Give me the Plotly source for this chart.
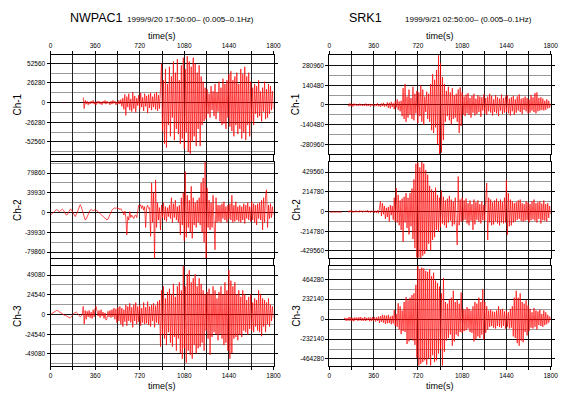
import plotly.graph_objects as go

N = None
DT = 8          # seconds between samples
T_START = 0     # time of the first sample (s)
UNIT = 1000     # sample values below are in thousands

# ---------------- NWPAC1 (1999/9/20 17:50:00-) ----------------
nwpac1_ch1_k = [
    N, N, N, N, N, N, N, N, N, N,
    N, N, N, 0, 0, N, N, N, N, N,
    N, N, N, N, N, N, N, N, N, N,
    N, N, N, 7, -8, 3, -2, 2, -3, 1,
    -2, 2, -1, 3, -2, 1, -3, 2, -1, 2,
    -2, 1, -3, 2, -1, 3, -2, 2, -1, 1,
    -3, 2, -2, 3, -1, 2, -3, 1, -2, 3,
    -2, 4, -5, 6, -9, 11, -17, 8, -6, 12,
    -10, 5, -12, 14, -8, 9, -13, 6, -4, 10,
    -9, 13, -6, 7, -11, 12, -5, 9, -14, 11,
    -7, 13, -10, 8, -6, 12, -9, 14, -11, 10,
    -8, 20, 52, -38, 30, -55, 45, -60, 25, -30,
    48, -45, 35, -20, 55, -50, 40, -35, 58, -42,
    30, -55, 50, -48, 60, -62, 45, -40, 62, -66,
    55, -68, 48, -52, 60, -45, 52, -58, 40, -35,
    50, -58, 35, -30, 28, -25, 20, -22, 18, -15,
    12, -20, 22, -10, 15, -18, 25, -22, 14, -12,
    28, -25, 20, -30, 32, -28, 25, -35, 30, -20,
    38, -32, 42, -38, 30, -45, 35, -30, 40, -42,
    25, -35, 45, -48, 38, -40, 48, -50, 35, -30,
    40, -45, 28, -25, 20, -30, 25, -15, 22, -20,
    30, -18, 15, -25, 20, -12, 28, -22, 18, -20,
    25, -15, 22, -10, 15, -8,
]

nwpac1_ch2_k = [
    -5, -3, 0, 2, 4, 5, 6, 5, 3, 2,
    4, 6, 7, 5, 2, -2, -5, -4, 0, 4,
    7, 6, 2, -3, -7, -8, -4, 2, 8, 13,
    16, 12, 4, -5, -12, -15, -13, -8, -2, 3,
    5, 6, 5, 4, 5, 6, 5, 4, 2, 0,
    -2, -4, -6, -8, -10, -12, -14, -15, -13, -8,
    -3, 2, 5, 7, 9, 10, 8, 10, 7, 9,
    6, 8, 4, 2, -5, 3, -10, -45, -8, -15,
    2, -10, -5, -8, -12, -6, -5, -10, 2, 15,
    12, 16, 8, 14, 5, 12, -30, 10, 15, 8,
    10, -48, 60, -20, 40, -98, 66, -30, 20, -15,
    10, -35, 15, -10, 20, -15, 12, -18, 10, -8,
    15, -12, 30, -20, 18, -10, 25, -15, 12, -20,
    15, -45, 30, -25, 40, -57, 83, -50, 35, -30,
    25, -40, 53, -52, 30, -25, 20, -30, 25, -20,
    30, -25, 60, -40, 70, -60, 103, -92, 50, -30,
    25, -35, 20, -30, 35, -40, -75, 30, -20, 15,
    -18, 15, -20, 18, -12, 22, -15, 12, -20, 15,
    -12, 18, -15, 35, -20, 15, -18, 22, -15, 12,
    -18, 15, -20, 12, -15, 18, -22, 15, -12, 20,
    -15, 12, -18, 22, -15, 18, -20, 15, -25, 18,
    -12, 20, -15, 25, -35, 30, -20, 35, 46, -30,
    15, -12, 18, -10, 12, -5,
]

nwpac1_ch3_k = [
    0, 1, 2, 3, 4, 5, 5, 5, 4, 3,
    3, 2, 1, 0, -1, -1, -2, -2, -3, -4,
    -4, -3, -2, 0, 2, 3, 3, 2, 0, -2,
    -3, -2, 0, 10, -12, 5, -6, 4, -3, 5,
    -4, 3, -5, 6, -3, 8, 10, 4, -2, 5,
    -4, 6, -2, 3, -5, 2, -7, -5, 4, -3,
    5, -4, 6, -3, 8, -6, 7, -10, 9, -8,
    10, -12, 8, -15, 6, -9, 12, -14, 10, -8,
    14, -10, 9, -16, 12, -8, 15, -12, 10, -9,
    12, -14, 8, -10, 15, -12, 9, -11, 16, -13,
    10, -15, 12, -8, 14, -16, 11, -10, 16, -12,
    18, -40, 30, -25, 35, -30, 20, -38, 28, -22,
    32, -35, 25, -40, 38, -28, 22, -45, 35, -30,
    40, -48, 30, -55, 60, -42, 35, -60, 50, -45,
    55, -50, 40, -55, 45, -38, 50, -48, 35, -42,
    45, -40, 38, -35, 30, -45, 25, -20, 28, -30,
    32, -50, 25, -28, 35, -22, 30, -25, 20, -32,
    28, -24, 35, -30, 25, -38, 40, -35, 30, -45,
    55, -55, 42, -48, 35, -30, 40, -28, 25, -32,
    30, -25, 22, -28, 30, -20, 25, -22, 18, -25,
    22, -18, 25, -20, 15, -22, 20, -15, 18, -20,
    30, -22, 25, -27, 20, -15, 18, -22, 15, -12,
    20, -15, 12, -8, 10, -5,
]

# ---------------- SRK1 (1999/9/21 02:50:00-) ----------------
srk1_ch1_k = [
    N, N, N, N, N, N, N, N, N, N,
    N, N, N, N, N, N, N, N, N, 0,
    -10, 12, -8, 6, -12, 10, -5, 8, -6, 4,
    -7, 9, -5, 6, -8, 4, -6, 10, -9, 5,
    -6, 8, -12, 7, -4, 9, -10, 6, -8, 12,
    -9, 5, -14, 10, -8, 15, -12, 6, -10, 18,
    -20, 15, -25, 22, -15, 12, -30, 25, -18, 40,
    -35, 25, -45, 30, -80, 120, -100, 150, -120, 60,
    -90, 110, -70, 50, -100, 130, -110, 80, -60, 100,
    -130, 90, -80, 140, -120, 110, -140, 60, -50, 95,
    -100, 80, -120, 150, -180, 220, -200, 180, -160, 250,
    -280, 355, -350, 300, -340, 200, -250, 150, -120, 100,
    -80, 130, -110, 90, -140, 120, -100, 70, -90, 80,
    -120, 110, -200, 125, -150, 90, -70, 60, -80, 75,
    -60, 85, -70, 50, -90, 65, -55, 80, -75, 45,
    -65, 70, -50, 60, -85, 55, -40, 75, -60, 50,
    -70, 60, -45, 80, -55, 65, -75, 40, -50, 70,
    -60, 55, -80, 45, -40, 75, -65, 50, -55, 60,
    -50, 70, -60, 45, -75, 55, -45, 65, -70, 40,
    -55, 60, -40, 75, -50, 45, -65, 50, -35, 60,
    -45, 50, -60, 40, -55, 70, -40, 55, -50, 85,
    -60, 90, -45, 50, -40, 55, -35, 45, -40, 30,
    -35, 40, -25, 30, -20, 10,
]

srk1_ch2_k = [
    -7, -6, -7, -6, -7, -7, -6, -7, -6, -7,
    -7, -6, -7, -6, N, N, N, N, N, 8,
    -10, 12, -6, 9, -12, 5, -8, 10, -7, 6,
    -9, 12, -5, 8, -11, 7, -6, 10, -8, 14,
    -10, 6, -12, 9, -5, 11, -14, 8, -15, 12,
    -20, 40, 110, -50, 90, -30, 60, -80, 40, -60,
    50, -110, 70, -40, 60, -90, 150, -110, 255, -120,
    180, -150, 120, -200, 140, -330, 160, -120, 200, -180,
    150, -250, 200, -160, 250, -300, 350, -400, 520, -500,
    530, -500, 480, -510, 540, -480, 520, -460, 450, -420,
    400, -350, 280, -420, 240, -310, 220, -280, 260, -200,
    180, -220, 150, -170, 230, -130, 160, -150, 120, -180,
    140, -120, 170, -100, 130, -160, 110, -140, 150, -120,
    -365, 380, -150, 130, -110, 150, -100, 120, -90, 140,
    -130, 90, -150, 120, -100, 80, -200, 130, -140, 100,
    -90, 120, -110, 80, -130, 110, -95, 70, -100, 150,
    310, -310, 150, -120, 130, -150, 100, -140, 120, -110,
    140, -130, 110, -150, 130, -120, 100, -130, 150, -120,
    345, -255, 200, -160, 130, -150, 110, -120, 90, -110,
    100, -90, 120, -80, 130, -100, 90, -110, 80, -100,
    110, -90, 100, -120, 80, -95, 110, -85, 130, -100,
    90, -120, 100, -80, 110, -130, 85, -95, 120, -100,
    80, -110, 90, -70, 60, -30,
]

srk1_ch3_k = [
    N, N, N, N, N, N, N, N, N, N,
    N, N, N, N, N, 0, 15, -20, 12, -18,
    25, -18, 20, -22, 15, -25, 20, -12, 18, -20,
    22, -15, 25, -20, 12, -18, 25, -22, 15, -12,
    20, -25, 18, -22, 25, -15, 22, -28, 20, -20,
    30, -45, 35, -30, 50, -40, 45, -55, 40, -48,
    50, -45, 30, -60, 40, -50, 105, -80, 60, -90,
    185, -120, 150, -175, 100, -140, 200, -150, 255, -290,
    220, -260, 250, -230, 280, -250, 300, -300, 400, -450,
    620, -540, 580, -520, 600, -500, 590, -480, 560, -530,
    550, -460, 580, -540, 500, -420, 540, -500, 450, -480,
    420, -400, 380, -350, 300, -540, 480, -380, 200, -250,
    180, -220, 230, -180, 250, -310, 330, -260, 200, -180,
    220, -200, 180, -150, 310, -160, 120, -140, 110, -130,
    140, -110, 120, -150, 100, -160, 150, -260, 200, -230,
    180, -200, 250, -220, 200, -180, 350, -240, 200, -160,
    150, -120, 100, -90, 110, -80, 90, -100, 85, -110,
    100, -80, 150, -90, 110, -100, 120, -80, 90, -110,
    100, -90, 80, -110, 120, -100, 150, -200, 250, -220,
    330, -280, 250, -310, 300, -250, 200, -270, 180, -150,
    220, -190, 160, -140, 120, -100, 80, -110, 130, -90,
    100, -120, 90, -70, 110, -80, 60, -90, 100, -70,
    80, -60, 50, -40, 30, -10,
]

# axis tick steps (labelled values are 0, +-step, +-2*step)
nwpac1_steps = [26280, 39930, 24540]
srk1_steps = [140480, 214780, 232140]
nwpac1_ranges = [[-68600, 63650], [-91600, 102100], [-64000, 60260]]
srk1_ranges = [[-350300, 357000], [-506000, 538700], [-546000, 619000]]

channel_names = ["Ch-1", "Ch-2", "Ch-3"]
time_ticks = [0, 180, 360, 540, 720, 900, 1080, 1260, 1440, 1620, 1800]
time_labels = ["0", "", "360", "", "720", "", "1080", "", "1440", "", "1800"]

stations = [
    dict(name="NWPAC1", info="1999/9/20 17:50:00\u2013 (0.005\u20130.1Hz)",
         data=[nwpac1_ch1_k, nwpac1_ch2_k, nwpac1_ch3_k],
         steps=nwpac1_steps, ranges=nwpac1_ranges),
    dict(name="SRK1", info="1999/9/21 02:50:00\u2013 (0.005\u20130.1Hz)",
         data=[srk1_ch1_k, srk1_ch2_k, srk1_ch3_k],
         steps=srk1_steps, ranges=srk1_ranges),
]

W, H = 566, 396
col_px = [(50.5, 273.5), (329.3, 550.7)]
row_px = [(55, 154), (162, 258), (266, 366)]
FONT = "Liberation Sans, Arial, Helvetica, sans-serif"

fig = go.Figure()
layout = dict(width=W, height=H, margin=dict(l=0, r=0, t=0, b=0, pad=0),
              paper_bgcolor="white", plot_bgcolor="white", showlegend=False,
              font=dict(family=FONT, color="black"), annotations=[])

n = 0
for c, st in enumerate(stations):
    x0, x1 = col_px[c]
    for r in range(3):
        n += 1
        sfx = "" if n == 1 else str(n)
        vals = st["data"][r]
        t = [T_START + DT * i for i in range(len(vals))]
        y = [None if v is None else v * UNIT for v in vals]
        fig.add_trace(go.Scatter(x=t, y=y, mode="lines", connectgaps=False,
                                 line=dict(color="#ff0000", width=0.7),
                                 hoverinfo="skip",
                                 xaxis="x" + sfx, yaxis="y" + sfx))
        y0p, y1p = row_px[r]
        s = st["steps"][r]
        yt = [-2 * s, -s, 0, s, 2 * s]
        layout["xaxis" + sfx] = dict(
            domain=[x0 / W, x1 / W], range=[0, 1800], anchor="y" + sfx,
            automargin=False,
            tickmode="array", tickvals=time_ticks, ticktext=time_labels,
            ticks="outside", ticklen=3, tickcolor="black", tickwidth=1,
            showline=True, linecolor="black", linewidth=1, mirror="allticks",
            showgrid=True, gridcolor="#222222", gridwidth=1, zeroline=False,
            side="top" if r == 0 else "bottom",
            showticklabels=(r != 1),
            tickfont=dict(size=6.5, family=FONT, color="black"),
        )
        layout["yaxis" + sfx] = dict(
            domain=[1 - y1p / H, 1 - y0p / H], range=st["ranges"][r],
            anchor="x" + sfx, automargin=False,
            tickmode="array", tickvals=yt, ticktext=[str(v) for v in yt],
            ticks="outside", ticklen=3, tickcolor="black", tickwidth=1,
            showline=True, linecolor="black", linewidth=1, mirror="allticks",
            showgrid=True, gridcolor="#111111", gridwidth=1, zeroline=False,
            minor=dict(tickmode="array",
                       tickvals=[-2.5 * s, -1.5 * s, -0.5 * s, 0.5 * s, 1.5 * s, 2.5 * s],
                       showgrid=True, gridcolor="#9a9a9a", gridwidth=1),
            tickfont=dict(size=6.5, family=FONT, color="black"),
        )
        # channel label
        layout["annotations"].append(dict(
            text=channel_names[r], xref="paper", yref="paper",
            x=(x0 - 33.5) / W, y=1 - (y0p + y1p) / 2 / H,
            xanchor="center", yanchor="middle", textangle=-90, showarrow=False,
            font=dict(size=10, family=FONT, color="black")))
    xc = (x0 + x1) / 2
    # time(s) labels
    for ypx in (36, 386):
        layout["annotations"].append(dict(
            text="time(s)", xref="paper", yref="paper", x=xc / W, y=1 - ypx / H,
            xanchor="center", yanchor="middle", showarrow=False,
            font=dict(size=9, family=FONT, color="black")))
    # station titles
    title_x = [68, 347][c]
    info_x = [125, 403][c]
    layout["annotations"].append(dict(
        text=st["name"], xref="paper", yref="paper", x=title_x / W, y=1 - 18 / H,
        xanchor="left", yanchor="middle", showarrow=False,
        font=dict(size=12.5, family=FONT, color="black")))
    layout["annotations"].append(dict(
        text=st["info"], xref="paper", yref="paper", x=info_x / W, y=1 - 19 / H,
        xanchor="left", yanchor="middle", showarrow=False,
        font=dict(size=8, family=FONT, color="black")))

fig.update_layout(**layout)
fig.write_html("out.html", config={"displayModeBar": False},
               post_script="document.body.style.margin='0px';document.body.style.overflow='hidden';")
